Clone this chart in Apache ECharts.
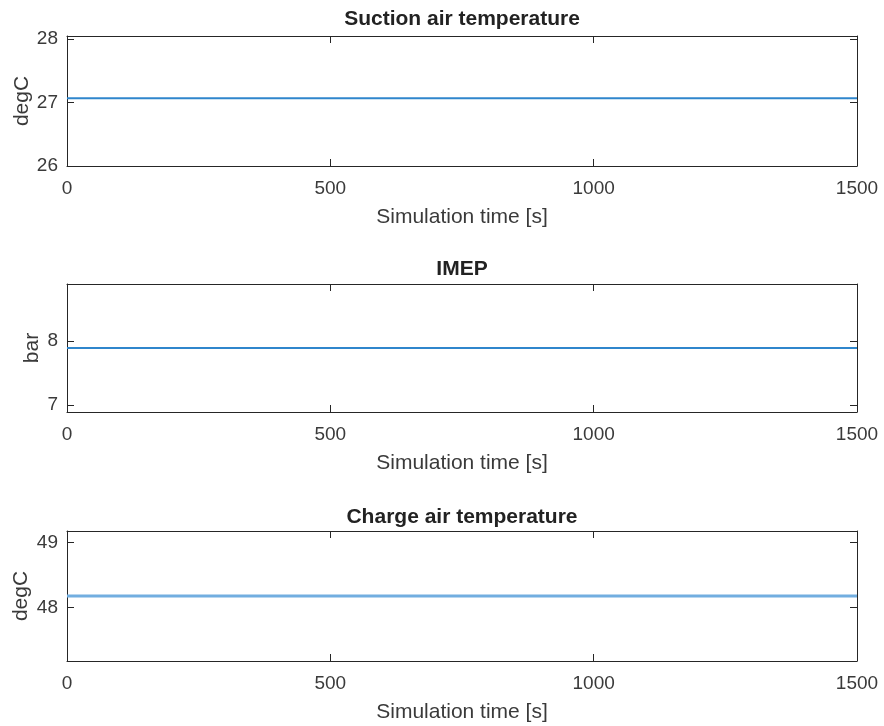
<!DOCTYPE html>
<html>
<head>
<meta charset="utf-8">
<script src="https://cdn.jsdelivr.net/npm/echarts@6/dist/echarts.min.js"></script>
<style>
  html, body { margin: 0; padding: 0; background: #fff; }
  #chart { width: 884px; height: 726px; }
</style>
</head>
<body>
<div id="chart"></div>
<script>
// Simulation time samples [s]
const time = [0, 1500];
// Signals (constant over the run)
const suctionAirTemp = [27.07, 27.07];   // degC
const imep = [7.89, 7.89];               // bar
const chargeAirTemp = [48.18, 48.18];    // degC

// X ticks
const timeTicks = [0, 500, 1000, 1500];
// Y ticks per panel
const suctionTicks = [26, 27, 28];
const imepTicks = [7, 8];
const chargeTicks = [48, 49];

const titles = ['Suction air temperature', 'IMEP', 'Charge air temperature'];
const units = ['degC', 'bar', 'degC'];

const FONT = '"Liberation Sans", Arial, Helvetica, sans-serif';
const TEXT = '#3a3a3a';
const AXIS = '#262626';
const TICK_FS = 19;
const LABEL_FS = 21;
const TITLE_FS = 21;

const panels = [
  { top: 36,  height: 130, min: 26,    max: 28.05, ticks: suctionTicks, data: suctionAirTemp, color: '#2f86cc', width: 2, nameGap: 34, titleTop: 9 },
  { top: 284, height: 128, min: 6.89,  max: 8.89,  ticks: imepTicks,    data: imep,           color: '#2f86cc', width: 2, nameGap: 24, titleTop: 259 },
  { top: 531, height: 130, min: 47.18, max: 49.18, ticks: chargeTicks,  data: chargeAirTemp,  color: '#72aee0', width: 3, nameGap: 35, titleTop: 507 }
];

const grid = [], xAxis = [], yAxis = [], series = [], title = [];

panels.forEach((p, i) => {
  grid.push({ left: 67, right: 27, top: p.top, height: p.height, show: false, outerBoundsMode: 'none' });

  title.push({
    text: titles[i], left: 462, top: p.titleTop, textAlign: 'center', padding: 0,
    textStyle: { fontFamily: FONT, fontSize: TITLE_FS, fontWeight: 'bold', color: '#222' }
  });

  const xCommon = {
    type: 'value', gridIndex: i, min: 0, max: 1500, interval: 500,
    axisLine: { show: true, onZero: false, lineStyle: { color: AXIS, width: 1 } },
    axisTick: { show: true, inside: true, length: 7, lineStyle: { color: AXIS } },
    splitLine: { show: false }
  };
  xAxis.push(Object.assign({}, xCommon, {
    position: 'bottom',
    name: 'Simulation time [s]', nameLocation: 'middle', nameGap: 41, nameMoveOverlap: false,
    nameTextStyle: { fontFamily: FONT, fontSize: LABEL_FS, color: TEXT },
    axisLabel: {
      show: true, margin: 13, fontFamily: FONT, fontSize: TICK_FS, color: TEXT,
      customValues: timeTicks, formatter: v => String(v)
    }
  }));
  xAxis.push(Object.assign({}, xCommon, {
    position: 'top', axisLabel: { show: false }
  }));

  const yCommon = {
    type: 'value', gridIndex: i, min: p.min, max: p.max,
    axisLine: { show: true, onZero: false, lineStyle: { color: AXIS, width: 1 } },
    axisTick: { show: true, inside: true, length: 7, customValues: p.ticks, lineStyle: { color: AXIS } },
    splitLine: { show: false }
  };
  yAxis.push(Object.assign({}, yCommon, {
    position: 'left',
    name: units[i], nameLocation: 'middle', nameGap: p.nameGap, nameRotate: 90, nameMoveOverlap: false,
    nameTextStyle: { fontFamily: FONT, fontSize: LABEL_FS, color: TEXT },
    axisLabel: {
      show: true, margin: 9, fontFamily: FONT, fontSize: TICK_FS, color: TEXT,
      customValues: p.ticks, formatter: v => String(v)
    }
  }));
  yAxis.push(Object.assign({}, yCommon, {
    position: 'right', axisLabel: { show: false }
  }));

  series.push({
    type: 'line', xAxisIndex: 2 * i, yAxisIndex: 2 * i,
    data: time.map((t, k) => [t, p.data[k]]),
    showSymbol: false, symbol: 'none', silent: true,
    lineStyle: { color: p.color, width: p.width }
  });
});

const chart = echarts.init(document.getElementById('chart'), null, { renderer: 'canvas' });
chart.setOption({
  backgroundColor: '#ffffff',
  animation: false,
  title, grid, xAxis, yAxis, series
});
</script>
</body>
</html>
